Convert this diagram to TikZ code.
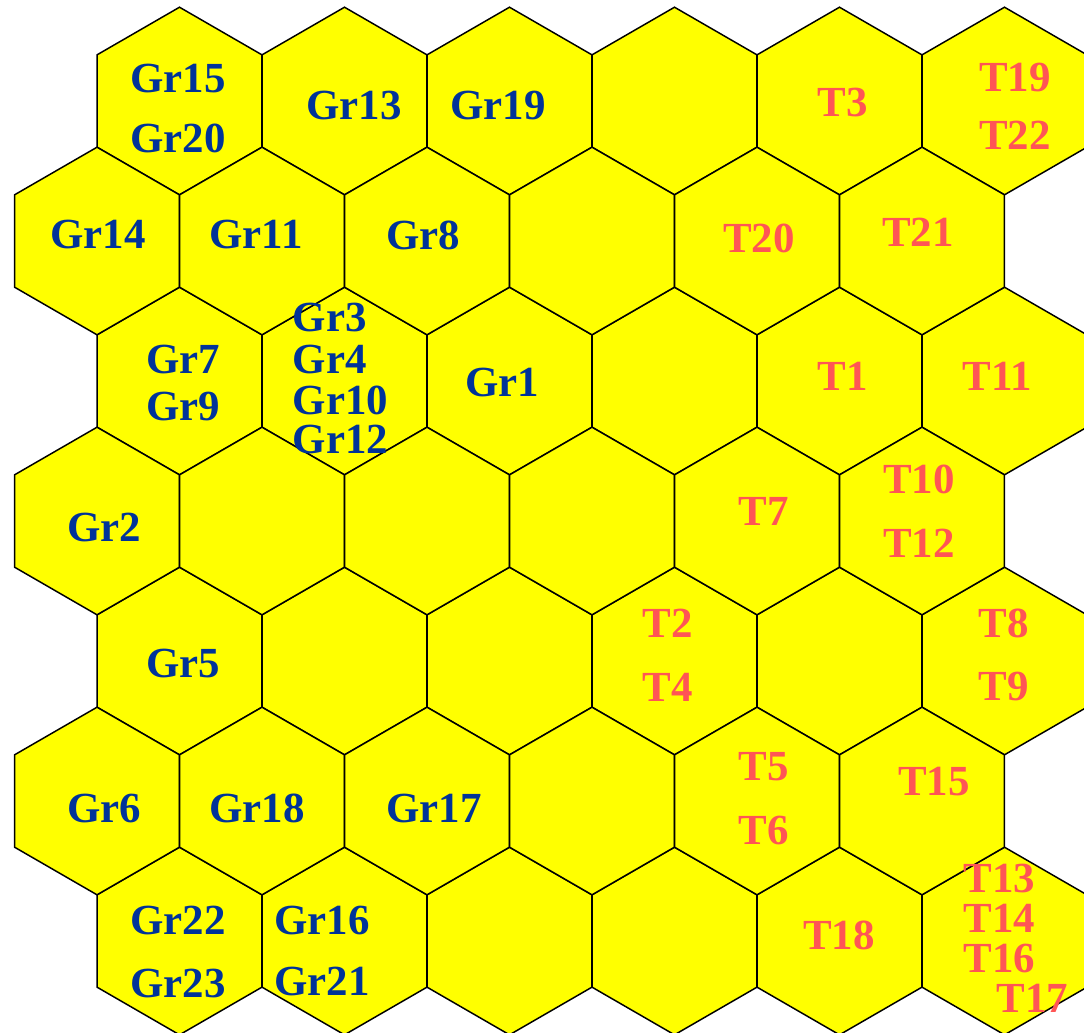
\documentclass[tikz,border=0pt]{standalone}
\usepackage{fontspec}
\setmainfont{Liberation Serif}
\definecolor{grblue}{RGB}{0,51,153}
\definecolor{tred}{RGB}{255,85,85}
\definecolor{cellyellow}{RGB}{255,255,0}

\begin{document}
\begin{tikzpicture}[x=0.01cm, y=-0.01cm,
  every node/.style={font=\fontsize{12.2}{14}\selectfont\bfseries, inner sep=0pt},
  cell/.style={fill=cellyellow, draw=black, line width=0.42pt},
  grlab/.style={text=grblue},
  tlab/.style={text=tred}]

\def\hexw{82.4}   %% half width of a cell
\def\hexs{46.2}   %% shoulder height
\def\hexv{93.8}   %% top / bottom vertex

\useasboundingbox (0,0) rectangle (1084,1033);
\clip (0,0) rectangle (1084,1033);

%% ── Cells, rows 0,2,4,6 ───────────────────────────────────────────────────────
\foreach \r in {0,2,4,6}{
  \foreach \c in {0,...,5}{
    \filldraw[cell] (179.5+165*\c, 101+140*\r)
      +(0,-\hexv) -- +(\hexw,-\hexs) -- +(\hexw,\hexs) -- +(0,\hexv)
      -- +(-\hexw,\hexs) -- +(-\hexw,-\hexs) -- cycle;
  }
}

%% ── Cells, rows 1,3,5 ─────────────────────────────────────────────────────────
\foreach \r in {1,3,5}{
  \foreach \c in {0,...,5}{
    \filldraw[cell] (97+165*\c, 101+140*\r)
      +(0,-\hexv) -- +(\hexw,-\hexs) -- +(\hexw,\hexs) -- +(0,\hexv)
      -- +(-\hexw,\hexs) -- +(-\hexw,-\hexs) -- cycle;
  }
}

%% ── Gr labels ────────────────────────────────────────────────────────────────
\node[grlab] (gr15) at (178, 79) {Gr15};
\node[grlab] (gr20) at (178,138) {Gr20};
\node[grlab] (gr13) at (354,106) {Gr13};
\node[grlab] (gr19) at (498,106) {Gr19};

\node[grlab] (gr14) at ( 98,235) {Gr14};
\node[grlab] (gr11) at (256,235) {Gr11};
\node[grlab] (gr8)  at (423,235) {Gr8};

\node[grlab] (gr7)  at (183,360) {Gr7};
\node[grlab] (gr9)  at (183,407) {Gr9};
\node[grlab, anchor=west] (gr3)  at (292,318) {Gr3};
\node[grlab, anchor=west] (gr4)  at (292,360) {Gr4};
\node[grlab, anchor=west] (gr10) at (292,400) {Gr10};
\node[grlab, anchor=west] (gr12) at (292,440) {Gr12};
\node[grlab] (gr1)  at (502,382) {Gr1};

\node[grlab] (gr2)  at (104,527) {Gr2};
\node[grlab] (gr5)  at (183,663) {Gr5};

\node[grlab] (gr6)  at (104,808) {Gr6};
\node[grlab] (gr18) at (257,808) {Gr18};
\node[grlab] (gr17) at (434,808) {Gr17};

\node[grlab] (gr22) at (178,920) {Gr22};
\node[grlab] (gr23) at (178,983) {Gr23};
\node[grlab] (gr16) at (322,920) {Gr16};
\node[grlab] (gr21) at (322,981) {Gr21};

%% ── T labels ─────────────────────────────────────────────────────────────────
\node[tlab] (t3)  at ( 843,103) {T3};
\node[tlab] (t19) at (1015, 78) {T19};
\node[tlab] (t22) at (1015,135) {T22};

\node[tlab] (t20) at (759,238) {T20};
\node[tlab] (t21) at (918,232) {T21};

\node[tlab] (t1)  at (843,376) {T1};
\node[tlab] (t11) at (997,376) {T11};

\node[tlab] (t7)  at (764,511) {T7};
\node[tlab] (t10) at (919,479) {T10};
\node[tlab] (t12) at (919,543) {T12};

\node[tlab] (t2)  at ( 668,623) {T2};
\node[tlab] (t4)  at ( 668,687) {T4};
\node[tlab] (t8)  at (1004,623) {T8};
\node[tlab] (t9)  at (1004,687) {T9};

\node[tlab] (t5)  at (764,767) {T5};
\node[tlab] (t6)  at (764,830) {T6};
\node[tlab] (t15) at (934,782) {T15};

\node[tlab] (t18) at (839,935) {T18};
\node[tlab, anchor=west] (t13) at (963,878) {T13};
\node[tlab, anchor=west] (t14) at (963,918) {T14};
\node[tlab, anchor=west] (t16) at (963,958) {T16};
\node[tlab, anchor=west] (t17) at (996,998) {T17};

\end{tikzpicture}
\end{document}
